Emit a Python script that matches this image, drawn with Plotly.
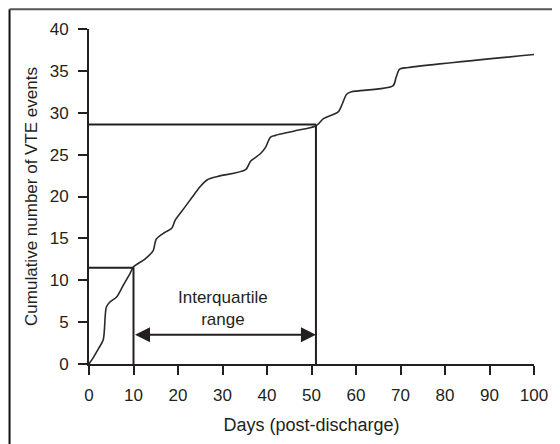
import plotly.graph_objects as go

# Cumulative VTE events curve
days = [0, 1.0, 2.1, 3.2, 3.9, 4.7, 6.2, 7.7, 9.2, 10.0, 12.5, 14.4, 15.1, 17.0,
        18.6, 19.4, 21.5, 23.3, 25.0, 26.6, 28.9, 35.2, 36.3, 38.5, 39.7, 40.8,
        41.9, 46.0, 50.8, 51.6, 52.7, 56.0, 56.8, 57.9, 59.0, 68.3, 69.0, 69.8,
        71.7, 100.0]
events = [0, 0.8, 1.8, 2.9, 6.8, 7.4, 8.0, 9.4, 10.8, 11.6, 12.5, 13.5, 14.9, 15.7,
          16.2, 17.2, 18.7, 20.0, 21.2, 22.0, 22.4, 23.2, 24.2, 25.1, 25.9, 27.1,
          27.3, 27.8, 28.4, 28.7, 29.3, 30.1, 30.9, 32.2, 32.5, 33.2, 34.2, 35.2,
          35.4, 36.95]

# Quartiles
q1_day, q1_events = 10, 11.5
q3_day, q3_events = 51, 28.6
arrow_y = 3.5
label_x, label_y = 30, 6.6

x_ticks = [0, 10, 20, 30, 40, 50, 60, 70, 80, 90, 100]
y_ticks = [0, 5, 10, 15, 20, 25, 30, 35, 40]

ink = "#231f20"
font = "Liberation Sans, Arial, sans-serif"

W, H = 552, 436
L, R, T, B = 81, 23, 21, 76
pw, ph = W - L - R, H - T - B

fig = go.Figure()
fig.add_trace(go.Scatter(x=days, y=events, mode="lines",
                         line=dict(color="#2a2a2a", width=1.6, shape="spline", smoothing=0.8),
                         hoverinfo="skip", showlegend=False))

# quartile guide lines
for qd, qe in [(q1_day, q1_events), (q3_day, q3_events)]:
    fig.add_shape(type="line", x0=0, x1=qd, y0=qe, y1=qe, xref="x", yref="y",
                  line=dict(color=ink, width=2))
    fig.add_shape(type="line", x0=qd, x1=qd, y0=0, y1=qe, xref="x", yref="y",
                  line=dict(color=ink, width=2))

# double-headed arrow
fig.add_annotation(x=q3_day, y=arrow_y, ax=q1_day, ay=arrow_y, xref="x", yref="y",
                   axref="x", ayref="y", text="", showarrow=True,
                   arrowhead=2, startarrowhead=2, arrowside="end+start",
                   arrowsize=1.5, startarrowsize=1.5, arrowwidth=2, arrowcolor=ink)
fig.add_annotation(x=label_x, y=label_y, xref="x", yref="y", text="Interquartile<br>range",
                   showarrow=False, font=dict(family=font, size=17, color=ink))

# outer frame (left and top)
fx = (1 - L) / pw
fy = (H - B - 1) / ph
fig.add_shape(type="line", xref="paper", yref="paper",
              x0=fx, x1=fx, y0=(-B - 10) / ph, y1=fy,
              line=dict(color="#111111", width=2))
fig.add_shape(type="line", xref="paper", yref="paper",
              x0=fx, x1=(W + 10 - L) / pw, y0=fy, y1=fy,
              line=dict(color="#555555", width=2))

fig.update_layout(
    width=W, height=H,
    margin=dict(l=L, r=R, t=T, b=B),
    paper_bgcolor="white", plot_bgcolor="white",
    font=dict(family=font, color=ink),
    xaxis=dict(range=[0, 100], tickvals=x_ticks, ticktext=[str(v) for v in x_ticks],
               showgrid=False, zeroline=False, showline=True, linecolor=ink, linewidth=2,
               ticks="outside", ticklen=9, tickwidth=2, tickcolor=ink,
               tickfont=dict(size=17, color=ink), ticklabelstandoff=6,
               title=dict(text="Days (post-discharge)", font=dict(size=18, color=ink), standoff=14)),
    yaxis=dict(range=[0, 40], tickvals=y_ticks, ticktext=[str(v) for v in y_ticks],
               showgrid=False, zeroline=False, showline=True, linecolor=ink, linewidth=2,
               ticks="outside", ticklen=9, tickwidth=2, tickcolor=ink,
               tickfont=dict(size=17, color=ink), ticklabelstandoff=6,
               title=dict(text="Cumulative number of VTE events", font=dict(size=17, color=ink), standoff=8)),
)

fig.write_html("out.html")
